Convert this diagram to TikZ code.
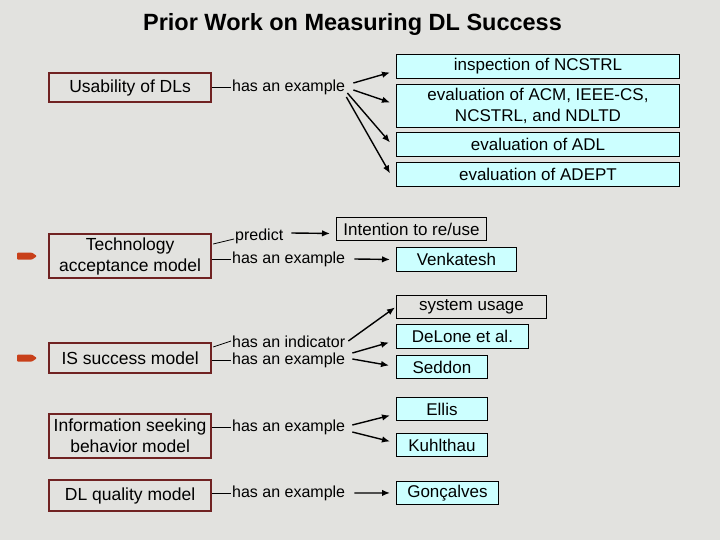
\documentclass[tikz,border=0pt]{standalone}
\usepackage{fontspec}
\setmainfont{Liberation Sans}
\usetikzlibrary{arrows.meta,calc}
\definecolor{bg}{RGB}{226,226,223}
\definecolor{boxred}{RGB}{112,34,34}
\definecolor{cyanbox}{RGB}{204,255,255}
\definecolor{markred}{RGB}{200,64,26}
\begin{document}
\begin{tikzpicture}[x=1pt,y=-1pt,
  concept/.style={draw=boxred, line width=2.2pt, minimum width=162pt, inner sep=0pt, align=center, anchor=north west, font=\fontsize{17.5}{21}\selectfont},
  exbox/.style={draw=black, line width=0.9pt, fill=cyanbox, inner sep=0pt, align=center, anchor=north west, font=\fontsize{17}{21}\selectfont},
  plainbox/.style={draw=black, line width=0.9pt, inner sep=0pt, align=center, anchor=north west, font=\fontsize{17}{21}\selectfont},
  lab/.style={anchor=west, inner sep=1pt, font=\fontsize{16}{19}\selectfont},
  link/.style={line width=0.8pt},
  arr/.style={line width=1.4pt, -{Latex[length=8pt,width=6.5pt]}},
  marker/.style={fill=markred, rounded corners=1pt}]
\useasboundingbox (0,0) rectangle (720,540);
\fill[bg] (0,0) rectangle (720,540);

% title
\node[font=\fontsize{23.5}{28}\selectfont\bfseries] (title) at (352.5,24) {Prior Work on Measuring DL Success};

% concept boxes
\node[concept, minimum height=29pt] (u) at (48,72) {Usability of DLs};
\node[concept, minimum height=44pt] (tam) at (48,233) {Technology\\acceptance model};
\node[concept, minimum height=30pt] (is) at (48,342) {IS success model};
\node[concept, minimum height=44pt] (isb) at (48,413) {Information seeking\\behavior model};
\node[concept, minimum height=31pt] (dlq) at (48,479) {DL quality model};

% example boxes
\node[exbox, minimum width=283pt, minimum height=24pt] (insp) at (396,54) {inspection of NCSTRL};
\node[exbox, minimum width=283pt, minimum height=43pt] (acm) at (396,84) {evaluation of ACM, IEEE-CS,\\NCSTRL, and NDLTD};
\node[exbox, minimum width=283pt, minimum height=24pt] (adl) at (396,132) {evaluation of ADL};
\node[exbox, minimum width=283pt, minimum height=24pt] (adept) at (396,162) {evaluation of ADEPT};
\node[plainbox, minimum width=150pt, minimum height=23pt] (intent) at (336,217) {Intention to re/use};
\node[exbox, minimum width=120pt, minimum height=24pt] (venk) at (396,247) {Venkatesh};
\node[plainbox, minimum width=150pt, minimum height=23pt] (sysu) at (396,295) {system usage};
\node[exbox, minimum width=132pt, minimum height=24pt] (delone) at (396,324) {DeLone et al.};
\node[exbox, minimum width=91pt, minimum height=23pt] (seddon) at (396,355) {Seddon};
\node[exbox, minimum width=91pt, minimum height=23pt] (ellis) at (396,397) {Ellis};
\node[exbox, minimum width=91pt, minimum height=23pt] (kuhl) at (396,433) {Kuhlthau};
\node[exbox, minimum width=102pt, minimum height=23pt] (gonc) at (396,481) {Gonçalves};

% link labels
\node[lab] (l1) at (231,87) {has an example};
\node[lab] (l2) at (234,236) {predict};
\node[lab] (l3) at (231,259) {has an example};
\node[lab] (l4) at (231,342) {has an indicator};
\node[lab] (l5) at (231,360) {has an example};
\node[lab] (l6) at (231,427) {has an example};
\node[lab] (l7) at (231,493) {has an example};

% markers
\fill[marker] ($(tam.west)+(-31,-3.5)$) -- ++(15,0) -- ++(5,3.5) -- ++(-5,3.5) -- ++(-15,0) -- cycle;
\fill[marker] ($(is.west)+(-31,-3.5)$) -- ++(15,0) -- ++(5,3.5) -- ++(-5,3.5) -- ++(-15,0) -- cycle;

% lines from concepts to labels
\draw[link] (u.east |- l1.west) -- (l1.west);
\draw[link] ($(tam.north east)+(1,11)$) -- ($(l2.west)+(0,3)$);
\draw[link] (tam.east |- l3.west) -- (l3.west);
\draw[link] ($(is.north east)+(1,5)$) -- ($(l4.west)+(0,-1)$);
\draw[link] (is.east |- l5.west) -- (l5.west);
\draw[link] (isb.east |- l6.west) -- (l6.west);
\draw[link] (dlq.east |- l7.west) -- (l7.west);

% arrows from labels to examples
\draw[arr] ($(l1.east)+(7,-4)$) -- ($(insp.west)+(-6,6)$);
\draw[arr] ($(l1.east)+(7,3)$) -- ($(acm.west)+(-6,-3.5)$);
\draw[arr] ($(l1.east)+(1,6)$) -- ($(adl.west)+(-6,-2)$);
\draw[arr] ($(l1.east)+(0,10)$) -- ($(adept.west)+(-6,-1)$);
\draw[arr] ($(l2.east)+(7,-3)$) -- ($(intent.west)+(-6,4.5)$);
\draw[arr] ($(l3.east)+(8,0)$) -- ($(venk.west)+(-6,0)$);
\draw[arr] ($(l4.east)+(2,-1)$) -- ($(sysu.west)+(-1,0.5)$);
\draw[arr] ($(l5.east)+(6,-7)$) -- ($(delone.west)+(-7,6)$);
\draw[arr] ($(l5.east)+(6,-1)$) -- ($(seddon.west)+(-7,-1.5)$);
\draw[arr] ($(l6.east)+(6,-2)$) -- ($(ellis.west)+(-6,6.5)$);
\draw[arr] ($(l6.east)+(6,5)$) -- ($(kuhl.west)+(-6,-3.5)$);
\draw[arr] ($(l7.east)+(8,0)$) -- ($(gonc.west)+(-6,0)$);
\end{tikzpicture}
\end{document}
